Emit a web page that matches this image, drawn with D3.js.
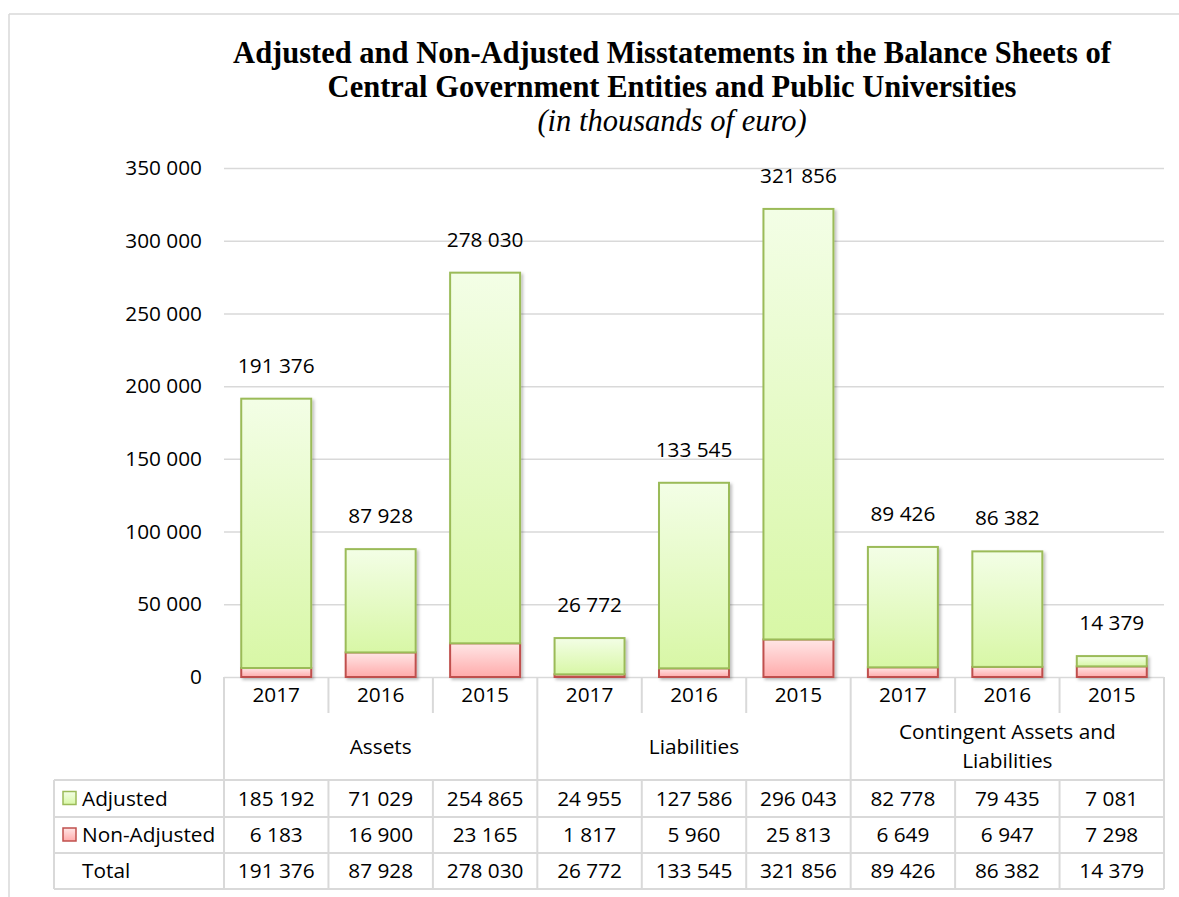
<!DOCTYPE html>
<html>
<head>
<meta charset="utf-8">
<script src="https://cdn.jsdelivr.net/npm/d3@7"></script>
<style>
  html, body { margin: 0; padding: 0; background: #fff; }
  svg { display: block; }
  .lbl { font-family: "Open Sans", sans-serif; font-size: 20.8px; fill: #000; }
</style>
</head>
<body>
<svg id="chart" width="1179" height="897"></svg>
<script>
// ---------- data ----------
const groups = ["Assets", "Liabilities", "Contingent Assets and Liabilities"];
const years = ["2017", "2016", "2015"];
const adjusted = [185192, 71029, 254865, 24955, 127586, 296043, 82778, 79435, 7081];
const nonAdjusted = [6183, 16900, 23165, 1817, 5960, 25813, 6649, 6947, 7298];
const totals = [191376, 87928, 278030, 26772, 133545, 321856, 89426, 86382, 14379];
const yTicks = [0, 50000, 100000, 150000, 200000, 250000, 300000, 350000];
const seriesNames = ["Adjusted", "Non-Adjusted", "Total"];
const titleLines = ["Adjusted and Non-Adjusted Misstatements in the Balance Sheets of",
                    "Central Government Entities and Public Universities"];
const subtitle = "(in thousands of euro)";

// ---------- setup ----------
const svg = d3.select("#chart");
const W = 1179, H = 897;
const plotL = 224, plotR = 1164, plotT = 168, plotB = 677;
const gridCol = "#d9d9d9";
const fmt = d3.formatLocale({decimal: ",", thousands: " ", grouping: [3], currency: ["", ""]}).format(",d");

const defs = svg.append("defs");
function grad(id, c1, c2) {
  const g = defs.append("linearGradient").attr("id", id)
    .attr("x1", 0).attr("y1", 0).attr("x2", 0).attr("y2", 1);
  g.append("stop").attr("offset", "0%").attr("stop-color", c1);
  g.append("stop").attr("offset", "100%").attr("stop-color", c2);
}
grad("gGreen", "#f3fee6", "#d8f7a6");
grad("gRed", "#ffe6e6", "#ffabab");
const f = defs.append("filter").attr("id", "shadow").attr("x", "-20%").attr("y", "-20%").attr("width", "140%").attr("height", "140%");
f.append("feDropShadow").attr("dx", 2).attr("dy", 2).attr("stdDeviation", 1.5).attr("flood-color", "#000").attr("flood-opacity", 0.25);

// outer frame
svg.append("line").attr("x1", 9).attr("x2", W).attr("y1", 14).attr("y2", 14).attr("stroke", gridCol).attr("stroke-width", 1.5);
svg.append("line").attr("x1", 9).attr("x2", 9).attr("y1", 14).attr("y2", H).attr("stroke", gridCol).attr("stroke-width", 1.5);

// titles
const tcx = 672;
svg.selectAll("text.title").data(titleLines).enter().append("text")
  .attr("class", "title")
  .attr("x", tcx).attr("y", (d, i) => 63 + i * 34)
  .attr("text-anchor", "middle")
  .style("font-family", "'Liberation Serif', 'Times New Roman', serif")
  .style("font-weight", "bold").style("font-size", "30.5px")
  .text(d => d);
svg.append("text").attr("x", tcx).attr("y", 131).attr("text-anchor", "middle")
  .style("font-family", "'Liberation Serif', 'Times New Roman', serif")
  .style("font-style", "italic").style("font-size", "30.5px")
  .text(subtitle);

// scales
const idx = d3.range(totals.length);
const y = d3.scaleLinear().domain([0, 350000]).range([plotB, plotT]);
const xb = d3.scaleBand().domain(idx).range([plotL, plotR]).paddingInner(0.33).paddingOuter(0.165);
const xc = d3.scaleBand().domain(idx).range([plotL, plotR]).padding(0);

// gridlines
const grid = svg.append("g").attr("transform", `translate(${plotL},0)`)
  .call(d3.axisLeft(y).tickValues(yTicks).tickSize(-(plotR - plotL)).tickFormat(""));
grid.select(".domain").remove();
grid.selectAll("line").attr("stroke", gridCol).attr("stroke-width", 1.5);

// y axis labels
const ya = svg.append("g").attr("transform", `translate(202,0)`)
  .call(d3.axisLeft(y).tickValues(yTicks).tickSize(0).tickPadding(0).tickFormat(fmt));
ya.select(".domain").remove();
ya.selectAll("text").attr("class", "lbl").attr("font-size", null).attr("font-family", null);

// bars
const barG = svg.append("g").attr("filter", "url(#shadow)");
barG.selectAll("rect.na").data(idx).enter().append("rect").attr("class", "na")
  .attr("x", i => xb(i)).attr("width", xb.bandwidth())
  .attr("y", i => y(nonAdjusted[i])).attr("height", i => y(0) - y(nonAdjusted[i]))
  .attr("fill", "url(#gRed)").attr("stroke", "#c0504d").attr("stroke-width", 2);
barG.selectAll("rect.ad").data(idx).enter().append("rect").attr("class", "ad")
  .attr("x", i => xb(i)).attr("width", xb.bandwidth())
  .attr("y", i => y(nonAdjusted[i] + adjusted[i])).attr("height", i => y(nonAdjusted[i]) - y(nonAdjusted[i] + adjusted[i]))
  .attr("fill", "url(#gGreen)").attr("stroke", "#9bbb59").attr("stroke-width", 2);

// data labels
svg.selectAll("text.dl").data(idx).enter().append("text").attr("class", "lbl dl")
  .attr("x", i => xb(i) + xb.bandwidth() / 2).attr("y", i => y(totals[i]) - 26)
  .attr("text-anchor", "middle").text(i => fmt(totals[i]));

// ---------- data table ----------
const tb = svg.append("g");
const rowYear = [677, 713], rowGroup = [713, 780];
const rowData = [780, 817, 853, 889];
const legL = 54;
function ln(x1, y1, x2, y2) {
  tb.append("line").attr("x1", x1).attr("y1", y1).attr("x2", x2).attr("y2", y2)
    .attr("stroke", gridCol).attr("stroke-width", 2);
}
// column boundaries
const bounds = idx.map(i => xc(i)).concat([plotR]);
bounds.forEach((bx, k) => {
  const isGroupEdge = (k % 3 === 0);
  if (isGroupEdge) ln(bx, rowYear[0], bx, rowData[3]);
  else { ln(bx, rowYear[0], bx, rowYear[1]); ln(bx, rowData[0], bx, rowData[3]); }
});
// horizontal lines for data rows
rowData.forEach(ry => ln(legL, ry, plotR, ry));
ln(legL, rowData[0], legL, rowData[3]);

// year labels
tb.selectAll("text.yr").data(idx).enter().append("text").attr("class", "lbl yr")
  .attr("x", i => xc(i) + xc.bandwidth() / 2).attr("y", 695).attr("dy", "0.35em")
  .attr("text-anchor", "middle").text(i => years[i % 3]);

// group labels (wrapped)
const groupLines = [["Assets"], ["Liabilities"], ["Contingent Assets and", "Liabilities"]];
groups.forEach((g, gi) => {
  const cx = (xc(gi * 3) + xc(gi * 3 + 2) + xc.bandwidth()) / 2;
  const lines = groupLines[gi];
  const cy = (rowGroup[0] + rowGroup[1]) / 2;
  lines.forEach((t, li) => {
    tb.append("text").attr("class", "lbl").attr("x", cx)
      .attr("y", cy + (li - (lines.length - 1) / 2) * 29).attr("dy", "0.35em")
      .attr("text-anchor", "middle").text(t);
  });
});

// data rows
const rows = [adjusted, nonAdjusted, totals];
rows.forEach((vals, r) => {
  const cy = (rowData[r] + rowData[r + 1]) / 2;
  tb.selectAll("text.r" + r).data(idx).enter().append("text").attr("class", "lbl r" + r)
    .attr("x", i => xc(i) + xc.bandwidth() / 2).attr("y", cy).attr("dy", "0.35em")
    .attr("text-anchor", "middle").text(i => fmt(vals[i]));
  tb.append("text").attr("class", "lbl").attr("x", 82).attr("y", cy).attr("dy", "0.35em").text(seriesNames[r]);
});
// legend keys
const keys = [{g: "url(#gGreen)", s: "#9bbb59"}, {g: "url(#gRed)", s: "#c0504d"}];
keys.forEach((k, r) => {
  const cy = (rowData[r] + rowData[r + 1]) / 2;
  tb.append("rect").attr("x", 63).attr("y", cy - 7).attr("width", 13).attr("height", 13)
    .attr("fill", k.g).attr("stroke", k.s).attr("stroke-width", 1.5);
});
</script>
</body>
</html>
